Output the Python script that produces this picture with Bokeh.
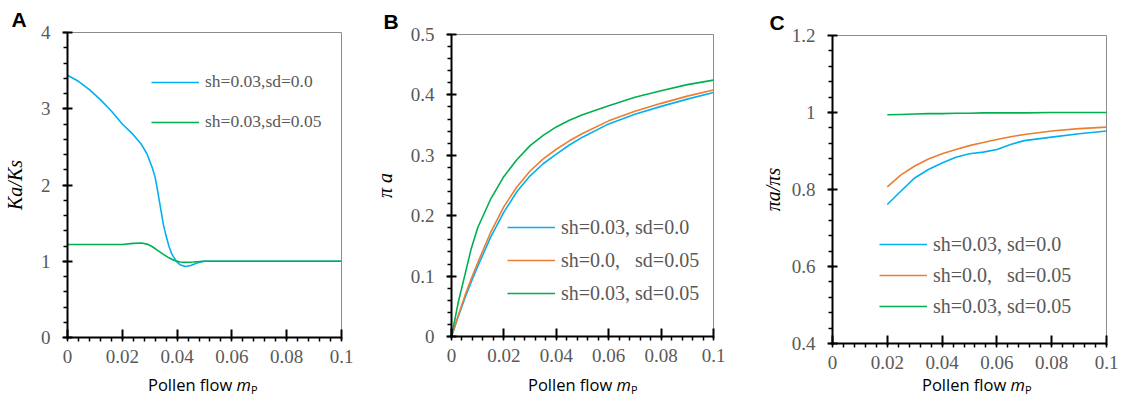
from bokeh.plotting import figure
from bokeh.models import (Range1d, FixedTicker, CustomJSTickFormatter, Legend, LegendItem, Div)
from bokeh.layouts import row, column
from bokeh.embed import file_html
from bokeh.resources import INLINE

# ---------------- data ----------------
# Panel A: Ka/Ks vs pollen flow
a_x_blue = [0, 0.004, 0.008, 0.012, 0.016, 0.020, 0.024, 0.027, 0.029, 0.031, 0.032, 0.033,
            0.034, 0.035, 0.036, 0.037, 0.038, 0.039, 0.040, 0.041, 0.043, 0.045, 0.047,
            0.049, 0.050, 0.060, 0.080, 0.100]
a_blue = [3.44, 3.36, 3.25, 3.12, 2.97, 2.80, 2.66, 2.53, 2.41, 2.22, 2.10, 1.90,
          1.69, 1.48, 1.33, 1.20, 1.10, 1.04, 0.99, 0.955, 0.93, 0.945, 0.975,
          0.995, 1.0, 1.0, 1.0, 1.0]
a_x_green = [0, 0.010, 0.020, 0.024, 0.027, 0.029, 0.031, 0.033, 0.035, 0.037, 0.039,
             0.041, 0.043, 0.046, 0.050, 0.060, 0.080, 0.100]
a_green = [1.22, 1.22, 1.22, 1.235, 1.24, 1.225, 1.19, 1.14, 1.09, 1.045, 1.01,
           0.99, 0.985, 0.99, 1.0, 1.0, 1.0, 1.0]
a_labels = ["sh=0.03,sd=0.0", "sh=0.03,sd=0.05"]

# Panel B: pi_a vs pollen flow
b_x = [0, 0.0025, 0.005, 0.0075, 0.01, 0.015, 0.02, 0.025, 0.03, 0.035, 0.04, 0.045,
       0.05, 0.06, 0.07, 0.08, 0.09, 0.1]
b_blue = [0, 0.032, 0.062, 0.090, 0.116, 0.165, 0.206, 0.240, 0.266, 0.286, 0.302, 0.317,
          0.330, 0.352, 0.368, 0.381, 0.393, 0.404]
b_orange = [0, 0.034, 0.066, 0.095, 0.122, 0.173, 0.215, 0.248, 0.274, 0.294, 0.310, 0.324,
            0.336, 0.357, 0.373, 0.386, 0.398, 0.408]
b_green = [0, 0.055, 0.100, 0.145, 0.180, 0.228, 0.265, 0.293, 0.316, 0.333, 0.347, 0.358,
           0.367, 0.382, 0.396, 0.407, 0.417, 0.4245]

# Panel C: pi_a / pi_s vs pollen flow
c_x = [0.02, 0.025, 0.03, 0.035, 0.04, 0.045, 0.05, 0.055, 0.06, 0.065, 0.07, 0.08, 0.09, 0.1]
c_blue = [0.761, 0.796, 0.830, 0.852, 0.869, 0.884, 0.893, 0.897, 0.904, 0.917, 0.927, 0.936,
          0.945, 0.952]
c_orange = [0.807, 0.838, 0.861, 0.879, 0.893, 0.904, 0.914, 0.922, 0.930, 0.937, 0.943, 0.952,
            0.958, 0.962]
c_green = [0.994, 0.995, 0.996, 0.997, 0.997, 0.998, 0.998, 0.999, 0.999, 0.999, 0.999, 1.0,
           1.0, 1.0]
bc_labels = ["sh=0.03, sd=0.0", "sh=0.0,\u00a0\u00a0\u00a0sd=0.05", "sh=0.03, sd=0.05"]

x_major = [0, 0.02, 0.04, 0.06, 0.08, 0.1]
x_minor = [i * 0.004 for i in range(26)]

BLUE = "#00B0F0"
ORANGE = "#ED7D31"
GREEN = "#00B050"
TICK_COLOR = "#595959"
SERIF = "Liberation Serif"
FIG_H = 378
LABEL_H = 13

fmt = CustomJSTickFormatter(code="return String(parseFloat(tick.toFixed(6)));")


def make_panel(width, bl, br, bt, bb, y0, y1, y_major, y_minor, ylabel, letter,
               letter_offset, ylabel_standoff):
    p = figure(width=width, height=FIG_H, x_range=Range1d(0, 0.1), y_range=Range1d(y0, y1),
               output_backend="svg", toolbar_location=None,
               min_border_left=bl, min_border_right=br, min_border_top=bt,
               min_border_bottom=bb)
    p.grid.visible = False
    p.outline_line_color = "#8c8c8c"
    p.outline_line_width = 1
    p.background_fill_color = "white"
    p.border_fill_color = "white"

    # panel letter as a left-aligned title
    p.title.text = letter
    p.title.align = "left"
    p.title.offset = letter_offset
    p.title.text_font = "Liberation Sans"
    p.title.text_font_style = "bold"
    p.title.text_font_size = "21px"
    p.title.text_color = "black"
    p.title.standoff = 3

    xa = p.xaxis[0]
    xa.ticker = FixedTicker(ticks=x_major, minor_ticks=x_minor)
    xa.formatter = fmt
    xa.axis_line_width = 2
    xa.axis_line_color = "black"
    xa.major_tick_line_color = "black"
    xa.minor_tick_line_color = "black"
    xa.major_tick_line_width = 2
    xa.minor_tick_line_width = 1.5
    xa.major_tick_in = 8
    xa.major_tick_out = 2
    xa.minor_tick_in = 0
    xa.minor_tick_out = 4
    xa.major_label_text_font = SERIF
    xa.major_label_text_font_size = "19px"
    xa.major_label_text_color = TICK_COLOR
    xa.major_label_standoff = 8

    ya = p.yaxis[0]
    ya.ticker = FixedTicker(ticks=y_major, minor_ticks=y_minor)
    ya.formatter = fmt
    ya.axis_line_width = 2
    ya.axis_line_color = "black"
    ya.major_tick_line_color = "black"
    ya.minor_tick_line_color = "black"
    ya.major_tick_line_width = 2
    ya.minor_tick_line_width = 1.5
    ya.major_tick_in = 5
    ya.major_tick_out = 5
    ya.minor_tick_in = 0
    ya.minor_tick_out = 4
    ya.major_label_text_font = SERIF
    ya.major_label_text_font_size = "19px"
    ya.major_label_text_color = TICK_COLOR
    ya.major_label_standoff = 12
    ya.axis_label = ylabel
    ya.axis_label_text_font = SERIF
    ya.axis_label_text_font_style = "italic"
    ya.axis_label_text_font_size = "20px"
    ya.axis_label_text_color = "black"
    ya.axis_label_standoff = ylabel_standoff
    return p


def add_legend(p, renderers, labels, loc, size, item_h, spacing):
    items = [LegendItem(label=l, renderers=[r]) for l, r in zip(labels, renderers)]
    leg = Legend(items=items, location=loc, glyph_width=48, glyph_height=item_h,
                 label_height=item_h, label_standoff=6, spacing=spacing, padding=0, margin=0,
                 border_line_color=None, background_fill_alpha=0,
                 label_text_font=SERIF, label_text_font_size=size,
                 label_text_color=TICK_COLOR)
    p.add_layout(leg, "center")


def xlabel_div(width, pad):
    html = ('<div style="margin-left:%dpx;line-height:%dpx;height:%dpx;white-space:nowrap;'
            'overflow:visible;font-family:\'Open Sans\';font-size:16.5px;color:black;">'
            'Pollen flow <i>m</i><span style="font-size:11px;position:relative;top:3px;">P</span>'
            '</div>') % (pad, LABEL_H, LABEL_H)
    return Div(text=html, width=width, height=LABEL_H, margin=0)


# ---------- Panel A ----------
pa = make_panel(370, 59, 29, 32, 41, 0, 4, [0, 1, 2, 3, 4],
                [i * 0.2 for i in range(21)], "Ka/Ks", "A", -56, 12)
ra1 = pa.line(a_x_blue, a_blue, line_color=BLUE, line_width=1.6)
ra2 = pa.line(a_x_green, a_green, line_color=GREEN, line_width=1.6)
add_legend(pa, [ra1, ra2], a_labels, (84, 205), "17.5px", 20, 19)

# ---------- Panel B ----------
pb = make_panel(380, 76, 37, 34, 42, 0, 0.5, [0, 0.1, 0.2, 0.3, 0.4, 0.5],
                [i * 0.02 for i in range(26)], "π a", "B", -68, 12)
rb1 = pb.line(b_x, b_blue, line_color=BLUE, line_width=1.6)
rb2 = pb.line(b_x, b_orange, line_color=ORANGE, line_width=1.6)
rb3 = pb.line(b_x, b_green, line_color=GREEN, line_width=1.6)
add_legend(pb, [rb1, rb2, rb3], bc_labels, (56, 31), "20px", 24, 9)

# ---------- Panel C ----------
pc = make_panel(368, 82, 12, 35, 35, 0.4, 1.2, [0.4, 0.6, 0.8, 1.0, 1.2],
                [0.4 + i * 0.04 for i in range(21)], "πa/πs", "C", -63, 5)
rc1 = pc.line(c_x, c_blue, line_color=BLUE, line_width=1.6)
rc2 = pc.line(c_x, c_orange, line_color=ORANGE, line_width=1.6)
rc3 = pc.line(c_x, c_green, line_color=GREEN, line_width=1.6)
add_legend(pc, [rc1, rc2, rc3], bc_labels, (47, 25), "20px", 24, 7)

layout = row(
    column(pa, xlabel_div(370, 148), spacing=0),
    column(pb, xlabel_div(380, 158), spacing=0),
    column(pc, xlabel_div(368, 172), spacing=0),
    spacing=0,
)
open("out.html", "w").write(file_html(layout, INLINE))
